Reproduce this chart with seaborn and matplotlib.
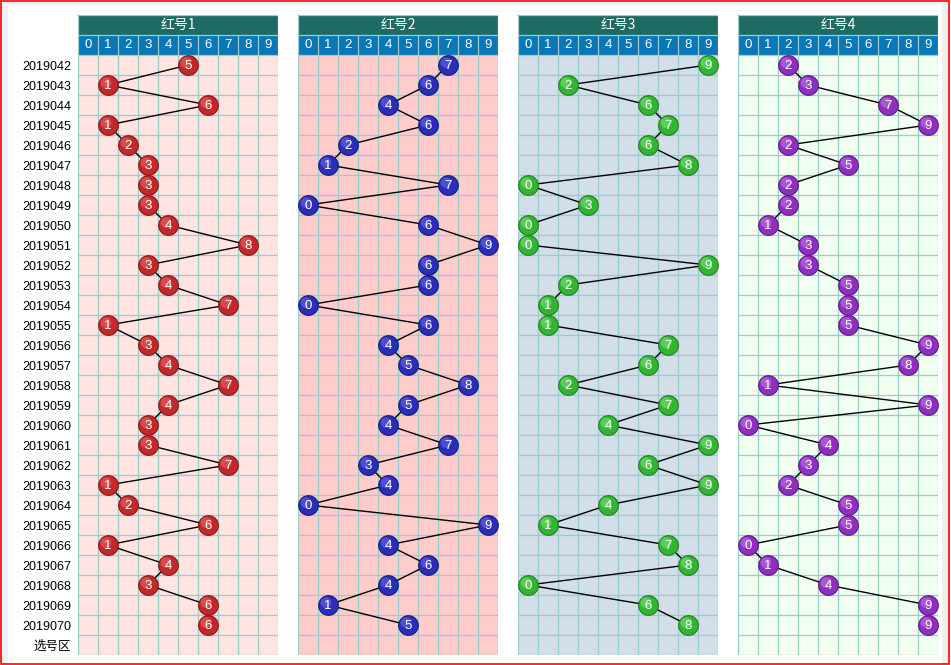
import matplotlib
matplotlib.use("Agg")
import matplotlib.pyplot as plt
import seaborn as sns
import pandas as pd
from matplotlib.patches import Rectangle

sns.set_theme(style="white")
plt.rcParams['font.family'] = ['Liberation Sans', 'Noto Sans CJK SC', 'DejaVu Sans']

issues = ["2019042", "2019043", "2019044", "2019045", "2019046", "2019047", "2019048",
          "2019049", "2019050", "2019051", "2019052", "2019053", "2019054", "2019055",
          "2019056", "2019057", "2019058", "2019059", "2019060", "2019061", "2019062",
          "2019063", "2019064", "2019065", "2019066", "2019067", "2019068", "2019069",
          "2019070"]
extra_row = "选号区"
panel_titles = ["红号1", "红号2", "红号3", "红号4"]
digits = [str(d) for d in range(10)]

red1 = [5, 1, 6, 1, 2, 3, 3, 3, 4, 8, 3, 4, 7, 1, 3, 4, 7, 4, 3, 3, 7, 1, 2, 6, 1, 4, 3, 6, 6]
red2 = [7, 6, 4, 6, 2, 1, 7, 0, 6, 9, 6, 6, 0, 6, 4, 5, 8, 5, 4, 7, 3, 4, 0, 9, 4, 6, 4, 1, 5]
red3 = [9, 2, 6, 7, 6, 8, 0, 3, 0, 0, 9, 2, 1, 1, 7, 6, 2, 7, 4, 9, 6, 9, 4, 1, 7, 8, 0, 6, 8]
red4 = [2, 3, 7, 9, 2, 5, 2, 2, 1, 3, 3, 5, 5, 5, 9, 8, 1, 9, 0, 4, 3, 2, 5, 5, 0, 1, 4, 9, 9]
series = [red1, red2, red3, red4]

bg_colors = ["#FFE4E1", "#FFCCCC", "#D2DEE8", "#F0FFF0"]
ball_colors = ["#C4282C", "#2B2DB8", "#33B533", "#8E2FC0"]
ball_edges = ["#8A1518", "#1A1A7A", "#1F7F1F", "#5E1A85"]
ball_hi = ["#E86A6A", "#6A6AE8", "#7EE07E", "#C07AE8"]
grid_c = "#99CCCC"
title_bg = "#1E6B64"
digit_bg = "#0A78B6"

W, H = 951, 665
fig = plt.figure(figsize=(W / 100, H / 100), dpi=100)
fig.patch.set_facecolor("white")

# outer frame decorations (figure pixel coordinates)
bg_ax = fig.add_axes([0, 0, 1, 1])
bg_ax.set_xlim(0, W)
bg_ax.set_ylim(H, 0)
bg_ax.axis("off")
bg_ax.add_patch(Rectangle((1, 1), 7, H - 2, facecolor="#F0F0F0", edgecolor="none"))
bg_ax.add_patch(Rectangle((1, 1), W - 3, 4, facecolor="#F0F0F0", edgecolor="none"))
bg_ax.add_patch(Rectangle((942, 1), 6, H - 2, facecolor="#F0F0F0", edgecolor="none"))
bg_ax.add_patch(Rectangle((0.5, 0.5), W - 2.5, H - 1.5, facecolor="none", edgecolor="#FF0000", lw=1.2))

lefts = [78, 298, 518, 738]
nrows = len(issues) + 1
top_px, bottom_px = 15, 655

for p in range(4):
    ax = fig.add_axes([lefts[p] / W, (H - bottom_px) / H, 200 / W, (bottom_px - top_px) / H])
    ax.set_xlim(-0.5, 9.5)
    ax.set_ylim(nrows - 0.5, -2.5)
    ax.set_facecolor("none")
    for s in ax.spines.values():
        s.set_visible(False)

    # backgrounds
    ax.add_patch(Rectangle((-0.5, -0.5), 10, nrows, facecolor=bg_colors[p], edgecolor="none", zorder=0))
    ax.add_patch(Rectangle((-0.5, -2.5), 10, 1, facecolor=title_bg, edgecolor="none", zorder=0))
    ax.add_patch(Rectangle((-0.5, -1.5), 10, 1, facecolor=digit_bg, edgecolor="none", zorder=0))

    # grid
    for xv in [i - 0.5 for i in range(11)]:
        y0 = -2.5 if xv in (-0.5, 9.5) else -1.5
        ax.plot([xv, xv], [y0, nrows - 0.5], color=grid_c, lw=0.9, zorder=1, solid_capstyle="butt")
    for yv in [i - 0.5 for i in range(-2, nrows + 1)]:
        ax.plot([-0.5, 9.5], [yv, yv], color=grid_c, lw=0.9, zorder=1, solid_capstyle="butt")

    # header text
    ax.text(4.5, -2, panel_titles[p], color="white", ha="center", va="center",
            fontsize=10, family=["Noto Sans CJK SC", "DejaVu Sans"], zorder=6)
    for i, d in enumerate(digits):
        ax.text(i, -1, d, color="white", ha="center", va="center", fontsize=9.5, zorder=6)

    df = pd.DataFrame({"digit": series[p], "row": list(range(len(issues)))})
    sns.lineplot(data=df, x="digit", y="row", sort=False, estimator=None,
                 color="black", lw=1.0, ax=ax, zorder=3)
    sns.scatterplot(data=df, x="digit", y="row", s=200, color=ball_colors[p],
                    edgecolor=ball_edges[p], linewidth=0.8, ax=ax, zorder=4)
    hi = df.assign(digit=df["digit"] - 0.1, row=df["row"] - 0.12)
    sns.scatterplot(data=hi, x="digit", y="row", s=60, color=ball_hi[p],
                    edgecolor="none", alpha=0.55, ax=ax, zorder=4.5)
    for xv, yv in zip(df["digit"], df["row"]):
        ax.text(xv, yv + 0.03, str(xv), color="white", ha="center", va="center",
                fontsize=9.5, zorder=6)

    ax.set_xlabel("")
    ax.set_ylabel("")
    ax.set_xticks([])
    if p == 0:
        ax.set_yticks(list(range(nrows)))
        ax.set_yticklabels(issues + [extra_row], fontsize=9)
        ax.tick_params(axis="y", length=0, pad=5, colors="black")
    else:
        ax.set_yticks([])

fig.savefig("out.png", dpi=100, facecolor="white")
